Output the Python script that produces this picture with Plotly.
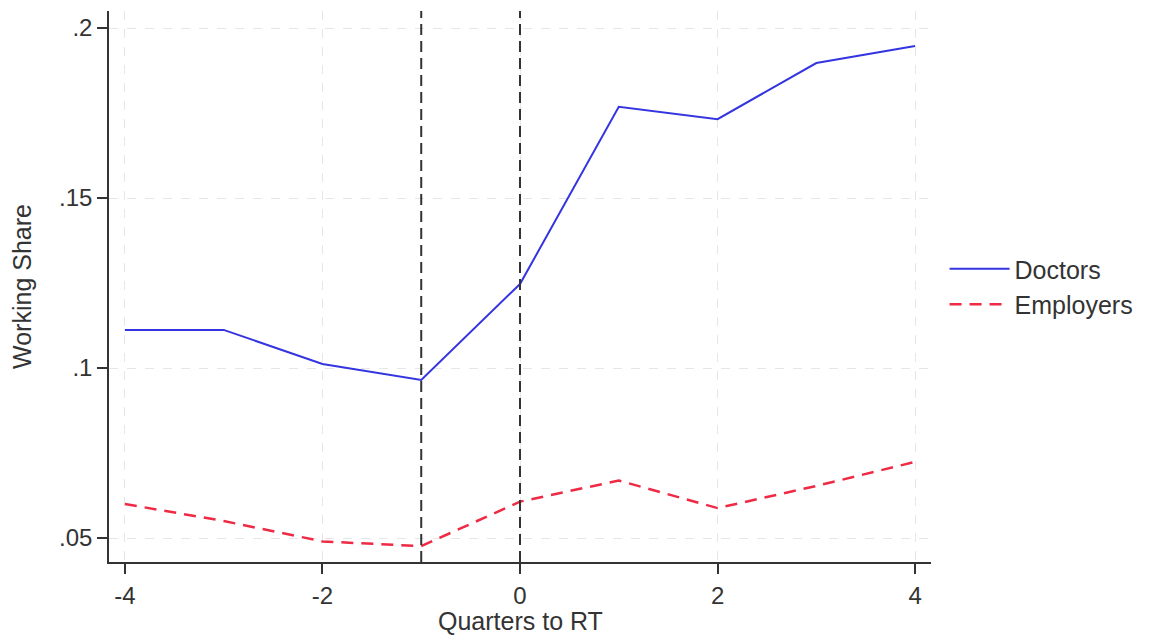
import plotly.graph_objects as go

quarters = [-4, -3, -2, -1, 0, 1, 2, 3, 4]
doctors = [0.1112, 0.1112, 0.1012, 0.0965, 0.1247, 0.1768, 0.1732, 0.1897, 0.1947]
employers = [0.0600, 0.0550, 0.0490, 0.0476, 0.0607, 0.0669, 0.0588, 0.0653, 0.0724]
event_lines = [-1, 0]
x_ticks = [-4, -2, 0, 2, 4]
y_ticks = [0.05, 0.10, 0.15, 0.20]
y_ticklabels = [".05", ".1", ".15", ".2"]

FONT = "Liberation Sans, Arial, sans-serif"
AX = "#333333"

fig = go.Figure()
fig.add_trace(go.Scatter(x=quarters, y=doctors, mode="lines", name="Doctors",
                         line=dict(color="#3434e0", width=2)))
fig.add_trace(go.Scatter(x=quarters, y=employers, mode="lines", name="Employers",
                         line=dict(color="#ee2a44", width=2.5, dash="12px,8px")))

for xv in event_lines:
    fig.add_shape(type="line", xref="x", yref="paper", x0=xv, x1=xv, y0=0, y1=1,
                  line=dict(color="#333333", width=2, dash="11px,6px"), layer="above")

fig.add_annotation(text="Quarters to RT", xref="paper", yref="paper", x=0.5, y=0,
                   xanchor="center", yanchor="bottom", yshift=-74, showarrow=False,
                   borderpad=0, font=dict(size=25, color="#333333"))

fig.update_layout(
    width=1150, height=637,
    margin=dict(l=109, r=216, t=11, b=75),
    paper_bgcolor="white", plot_bgcolor="white",
    font=dict(family=FONT, size=25, color="#333333"),
    showlegend=True,
    legend=dict(x=1.0165, xanchor="left", y=0.5, yanchor="middle",
                font=dict(size=25, color="#333333"), tracegroupgap=8,
                itemwidth=60, bgcolor="rgba(0,0,0,0)"),
    xaxis=dict(range=[-4.161, 4.161], tickvals=x_ticks, ticktext=[str(v) for v in x_ticks],
               showline=True, linecolor=AX, linewidth=1.5,
               ticks="outside", ticklen=10, tickwidth=1.5, tickcolor=AX,
               ticklabelstandoff=1, automargin=False,
               showgrid=True, gridcolor="#e6e6e6", gridwidth=1, griddash="dash",
               zeroline=False,
               tickfont=dict(size=24)),
    yaxis=dict(range=[0.04294, 0.2050], tickvals=y_ticks, ticktext=y_ticklabels,
               showline=True, linecolor=AX, linewidth=1.5,
               ticks="outside", ticklen=10, tickwidth=1.5, tickcolor=AX,
               automargin=False,
               showgrid=True, gridcolor="#e6e6e6", gridwidth=1, griddash="dash",
               zeroline=False,
               title=dict(text="Working Share", font=dict(size=25), standoff=20),
               tickfont=dict(size=24)),
)

fig.write_html("out.html")
